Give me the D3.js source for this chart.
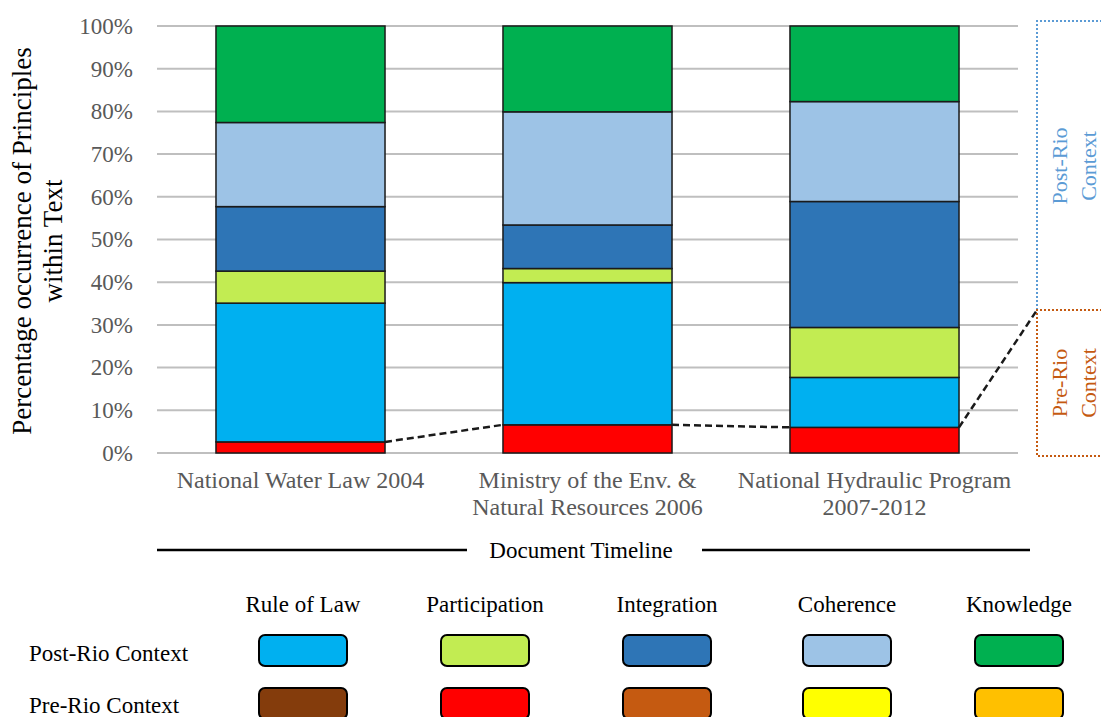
<!DOCTYPE html>
<html>
<head>
<meta charset="utf-8">
<script src="https://cdn.jsdelivr.net/npm/d3@7/dist/d3.min.js"></script>
<style>
  body { margin: 0; background: #fff; }
  svg { display: block; font-family: "Liberation Serif", "Times New Roman", serif; }
</style>
</head>
<body>
<svg id="chart" width="1101" height="717"></svg>
<script>
// ---- Data -------------------------------------------------------------
const documents = [
  ["National Water Law 2004"],
  ["Ministry of the Env. &", "Natural Resources 2006"],
  ["National Hydraulic Program", "2007-2012"]
];
const principles = ["Rule of Law", "Participation", "Integration", "Coherence", "Knowledge"];
const yTicks = [0, 10, 20, 30, 40, 50, 60, 70, 80, 90, 100];

// Pre-Rio context shares (% of principles in each document)
const preRuleOfLaw     = [0, 0, 0];
const preParticipation = [2.6, 6.6, 6.0];
const preIntegration   = [0, 0, 0];
const preCoherence     = [0, 0, 0];
const preKnowledge     = [0, 0, 0];

// Post-Rio context shares
const postRuleOfLaw     = [32.5, 33.3, 11.7];
const postParticipation = [7.5, 3.3, 11.7];
const postIntegration   = [15.1, 10.2, 29.5];
const postCoherence     = [19.7, 26.5, 23.4];
const postKnowledge     = [22.6, 20.1, 17.7];

const preColors  = ["#843C0C", "#FF0000", "#C55A11", "#FFFF00", "#FFC000"];
const postColors = ["#00B0F0", "#C2EC52", "#2E75B6", "#9DC3E6", "#00B050"];

// ---- Build stacked table ----------------------------------------------
const preSeries  = [preRuleOfLaw, preParticipation, preIntegration, preCoherence, preKnowledge];
const postSeries = [postRuleOfLaw, postParticipation, postIntegration, postCoherence, postKnowledge];
const keys = [
  ...principles.map(p => "pre|" + p),
  ...principles.map(p => "post|" + p)
];
const colorOf = {};
principles.forEach((p, i) => { colorOf["pre|" + p] = preColors[i]; colorOf["post|" + p] = postColors[i]; });

const table = documents.map((d, j) => {
  const row = { doc: d.join(" ") };
  principles.forEach((p, i) => {
    row["pre|" + p] = preSeries[i][j];
    row["post|" + p] = postSeries[i][j];
  });
  return row;
});
const stacked = d3.stack().keys(keys)(table);

// ---- Layout -------------------------------------------------------------
const svg = d3.select("#chart");
const plot = { left: 157, right: 1018, top: 26, bottom: 453 };
const serif = '"Liberation Serif", "Times New Roman", serif';

const x = d3.scaleBand()
  .domain(table.map(d => d.doc))
  .range([plot.left, plot.right])
  .paddingInner(0.411)
  .paddingOuter(0.2055);
const y = d3.scaleLinear().domain([0, 100]).range([plot.bottom, plot.top]);

// Gridlines
svg.append("g").selectAll("line")
  .data(yTicks)
  .join("line")
  .attr("x1", plot.left).attr("x2", plot.right)
  .attr("y1", d => y(d)).attr("y2", d => y(d))
  .attr("stroke", "#BFBFBF").attr("stroke-width", 2);

// Y axis labels
const yAxis = svg.append("g")
  .attr("transform", `translate(${plot.left - 24},0)`)
  .call(d3.axisLeft(y).tickValues(yTicks).tickFormat(d => d + "%").tickSize(0).tickPadding(0));
yAxis.select(".domain").remove();
yAxis.selectAll("text")
  .attr("font-family", serif).attr("font-size", 23).attr("fill", "#595959");

// Stacked bars
svg.append("g").selectAll("g")
  .data(stacked)
  .join("g")
  .attr("fill", s => colorOf[s.key])
  .selectAll("rect")
  .data(s => s.filter(seg => seg[1] - seg[0] > 0))
  .join("rect")
  .attr("x", seg => x(seg.data.doc))
  .attr("width", x.bandwidth())
  .attr("y", seg => y(seg[1]))
  .attr("height", seg => y(seg[0]) - y(seg[1]))
  .attr("stroke", "#1a1a1a").attr("stroke-width", 1.5);

// Series line joining the pre-Rio totals, ending at the bracket corner
const bracket = { x: 1037, top: 21, split: 310, bottom: 456 };
const preTotals = table.map(r => d3.sum(principles, p => r["pre|" + p]));
const linePts = [];
table.forEach((r, j) => {
  if (j > 0) linePts.push([x(r.doc), y(preTotals[j])]);
  linePts.push([x(r.doc) + x.bandwidth(), y(preTotals[j])]);
});
linePts.push([bracket.x, bracket.split]);
for (let i = 0; i < linePts.length - 1; i += 2) {
  svg.append("line")
    .attr("x1", linePts[i][0]).attr("y1", linePts[i][1])
    .attr("x2", linePts[i + 1][0]).attr("y2", linePts[i + 1][1])
    .attr("stroke", "#1a1a1a").attr("stroke-width", 2.5)
    .attr("stroke-dasharray", "7,4");
}

// Category labels
const cat = svg.append("g").selectAll("text")
  .data(documents)
  .join("text")
  .attr("font-family", serif).attr("font-size", 24).attr("fill", "#595959")
  .attr("text-anchor", "middle");
cat.each(function(lines, j) {
  const cx = x(table[j].doc) + x.bandwidth() / 2;
  d3.select(this).selectAll("tspan")
    .data(lines)
    .join("tspan")
    .attr("x", cx)
    .attr("y", (l, k) => 488 + k * 27)
    .text(l => l);
});

// Y axis title
svg.append("text")
  .attr("transform", "translate(31,241) rotate(-90)")
  .attr("font-family", serif).attr("font-size", 27).attr("fill", "#000")
  .attr("text-anchor", "middle")
  .selectAll("tspan")
  .data(["Percentage occurrence of Principles", "within Text"])
  .join("tspan")
  .attr("x", 0).attr("y", (d, i) => i * 31)
  .text(d => d);

// Context brackets
svg.append("path")
  .attr("d", `M1110,${bracket.top}H${bracket.x}V${bracket.split}`)
  .attr("fill", "none").attr("stroke", "#5B9BD5").attr("stroke-width", 2)
  .attr("stroke-dasharray", "2,2");
svg.append("path")
  .attr("d", `M1110,${bracket.split}H${bracket.x}V${bracket.bottom}H1110`)
  .attr("fill", "none").attr("stroke", "#C55A11").attr("stroke-width", 2)
  .attr("stroke-dasharray", "2,2");

function sideLabel(lines, cy, color) {
  svg.append("text")
    .attr("transform", `translate(1067,${cy}) rotate(-90)`)
    .attr("font-family", serif).attr("font-size", 22).attr("fill", color)
    .attr("text-anchor", "middle")
    .selectAll("tspan")
    .data(lines)
    .join("tspan")
    .attr("x", 0).attr("y", (d, i) => i * 29)
    .text(d => d);
}
sideLabel(["Post-Rio", "Context"], 166, "#5B9BD5");
sideLabel(["Pre-Rio", "Context"], 383, "#C55A11");

// Document timeline
svg.append("line").attr("x1", 157).attr("x2", 467).attr("y1", 550).attr("y2", 550)
  .attr("stroke", "#000").attr("stroke-width", 2.5);
svg.append("line").attr("x1", 702).attr("x2", 1030).attr("y1", 550).attr("y2", 550)
  .attr("stroke", "#000").attr("stroke-width", 2.5);
svg.append("text")
  .attr("x", 581).attr("y", 558)
  .attr("font-family", serif).attr("font-size", 23).attr("fill", "#000")
  .attr("text-anchor", "middle")
  .text("Document Timeline");

// Legend grid
const legendColX = [303, 485, 667, 847, 1019];
const legendRows = [
  { label: "Post-Rio Context", colors: postColors, top: 635, textY: 661 },
  { label: "Pre-Rio Context", colors: preColors, top: 688, textY: 713 }
];
svg.append("g").selectAll("text")
  .data(principles)
  .join("text")
  .attr("x", (d, i) => legendColX[i]).attr("y", 612)
  .attr("font-family", serif).attr("font-size", 23).attr("fill", "#000")
  .attr("text-anchor", "middle")
  .text(d => d);
legendRows.forEach(row => {
  svg.append("text")
    .attr("x", 29).attr("y", row.textY)
    .attr("font-family", serif).attr("font-size", 23).attr("fill", "#000")
    .attr("text-anchor", "start")
    .text(row.label);
  svg.append("g").selectAll("rect")
    .data(row.colors)
    .join("rect")
    .attr("x", (d, i) => legendColX[i] - 44)
    .attr("y", row.top)
    .attr("width", 88).attr("height", 31)
    .attr("rx", 6).attr("ry", 6)
    .attr("fill", d => d)
    .attr("stroke", "#000").attr("stroke-width", 2);
});
</script>
</body>
</html>
